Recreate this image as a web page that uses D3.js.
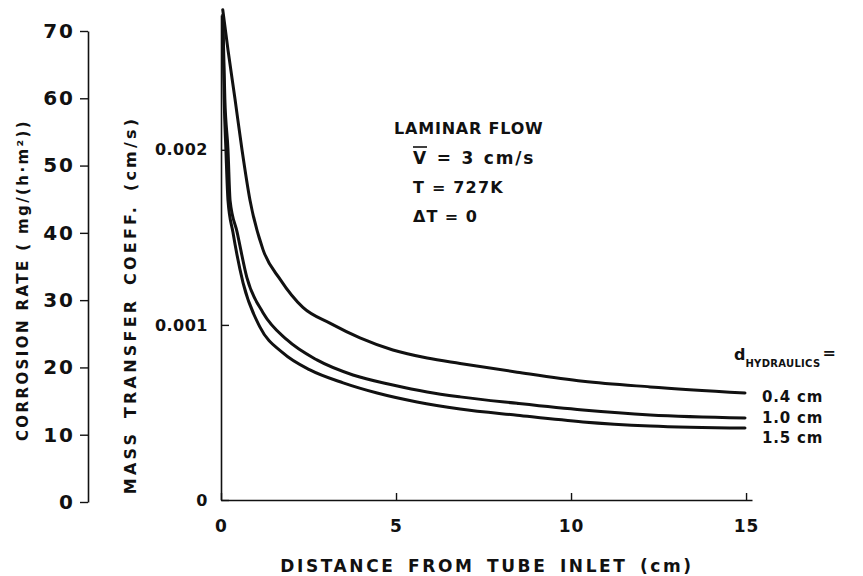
<!DOCTYPE html>
<html>
<head>
<meta charset="utf-8">
<script src="https://cdn.jsdelivr.net/npm/d3@7"></script>
<style>
  html, body { margin: 0; padding: 0; background: #fff; }
  svg { display: block; }
  text { font-family: "DejaVu Sans", "Liberation Sans", sans-serif; font-weight: bold; fill: #111; }
</style>
</head>
<body>
<svg id="chart" width="863" height="576"></svg>
<script>
// ---------------- data ----------------
const xTicks = [0, 5, 10, 15];
const corrosionTicks = [0, 10, 20, 30, 40, 50, 60, 70];
const massTicks = [0, 0.001, 0.002];
const massTickLabels = ["0", "0.001", "0.002"];

const seriesNames = ["0.4 cm", "1.0 cm", "1.5 cm"];

const dist04 = [0.05, 0.2, 0.4, 0.6, 0.83, 1.2, 1.69, 2.34, 3.11, 3.97, 4.91, 5.89, 6.83, 8.46, 10.34, 12.26, 14.97];
const mtc04  = [0.00280, 0.00257, 0.00229, 0.00200, 0.00171, 0.00143, 0.00126, 0.00110, 0.00101, 0.000926, 0.000857, 0.000811, 0.000780, 0.000730, 0.000678, 0.000646, 0.000611];

const dist10 = [0.05, 0.11, 0.2, 0.26, 0.46, 0.74, 1.2, 1.89, 2.74, 3.77, 4.91, 5.89, 6.83, 8.46, 10.34, 12.26, 14.97];
const mtc10  = [0.00277, 0.00229, 0.00200, 0.00171, 0.00153, 0.00127, 0.00107, 0.000914, 0.000800, 0.000714, 0.000657, 0.000617, 0.000589, 0.000552, 0.000514, 0.000486, 0.000469];

const dist15 = [0.05, 0.09, 0.14, 0.2, 0.34, 0.63, 1.11, 1.77, 2.54, 3.49, 4.46, 5.6, 6.83, 8.46, 10.34, 12.26, 14.97];
const mtc15  = [0.00275, 0.00229, 0.00200, 0.00171, 0.00153, 0.00124, 0.000989, 0.000840, 0.000743, 0.000669, 0.000611, 0.000560, 0.000520, 0.000484, 0.000446, 0.000423, 0.000411];

const annotationLines = ["LAMINAR FLOW", "V = 3 cm/s", "T = 727K", "\u0394T = 0"];

// ---------------- layout ----------------
const svg = d3.select("#chart");

const x = d3.scaleLinear().domain([0, 15.17]).range([221, 752]);
const yM = d3.scaleLinear().domain([0, 0.00277]).range([500, 15]);
const yC = d3.scaleLinear().domain([0, 70]).range([502, 31]);

// Corrosion axis (far left)
const gC = svg.append("g").attr("transform", "translate(88,0)")
  .call(d3.axisLeft(yC).tickValues(corrosionTicks).tickSize(8).tickSizeOuter(0).tickPadding(5));
gC.selectAll("path.domain").attr("stroke", "#111").attr("stroke-width", 1.6);
gC.selectAll(".tick line").attr("stroke", "#111").attr("stroke-width", 1.4);
gC.selectAll(".tick text").attr("font-size", 20).attr("font-family", "DejaVu Sans").attr("font-weight", "bold")
  .attr("fill", "#111").attr("letter-spacing", 2);

// Mass transfer axis
const gM = svg.append("g").attr("transform", "translate(221,0)")
  .call(d3.axisLeft(yM).tickValues(massTicks).tickFormat((d, i) => massTickLabels[i])
    .tickSize(-8).tickSizeOuter(0).tickPadding(13));
gM.selectAll("path.domain").attr("stroke", "#111").attr("stroke-width", 1.6);
gM.selectAll(".tick line").attr("stroke", "#111").attr("stroke-width", 1.4);
gM.selectAll(".tick text").attr("font-size", 16).attr("font-family", "DejaVu Sans").attr("font-weight", "bold")
  .attr("fill", "#111").attr("letter-spacing", 0.5);

// X axis
const gX = svg.append("g").attr("transform", "translate(0,500)")
  .call(d3.axisBottom(x).tickValues(xTicks).tickSize(-7).tickSizeOuter(0).tickPadding(20));
gX.selectAll("path.domain").attr("stroke", "#111").attr("stroke-width", 1.6);
gX.selectAll(".tick line").attr("stroke", "#111").attr("stroke-width", 1.4);
gX.selectAll(".tick text").attr("font-size", 17).attr("font-family", "DejaVu Sans").attr("font-weight", "bold")
  .attr("fill", "#111").attr("letter-spacing", 1);

// Curves
const line = d3.line().x(d => x(d[0])).y(d => yM(d[1])).curve(d3.curveMonotoneX);
const seriesData = [
  d3.zip(dist04, mtc04),
  d3.zip(dist10, mtc10),
  d3.zip(dist15, mtc15)
];
svg.append("g").selectAll("path.curve").data(seriesData).join("path")
  .attr("class", "curve")
  .attr("d", line)
  .attr("fill", "none")
  .attr("stroke", "#111")
  .attr("stroke-width", 3)
  .attr("stroke-linecap", "round");

// Axis titles
svg.append("text")
  .attr("transform", "translate(28,280) rotate(-90)")
  .attr("text-anchor", "middle")
  .attr("font-size", 15)
  .attr("letter-spacing", 2.4)
  .text("CORROSION RATE ( mg/(h\u00B7m\u00B2))");

svg.append("text")
  .attr("transform", "translate(136,305) rotate(-90)")
  .attr("text-anchor", "middle")
  .attr("font-size", 16)
  .attr("letter-spacing", 3.2)
  .attr("word-spacing", 4)
  .text("MASS TRANSFER COEFF. (cm/s)");

svg.append("text")
  .attr("x", 487).attr("y", 572)
  .attr("text-anchor", "middle")
  .attr("font-size", 17)
  .attr("letter-spacing", 2.6)
  .attr("word-spacing", 4)
  .text("DISTANCE FROM TUBE INLET (cm)");

// Annotation block
const ann = svg.append("g");
ann.append("text").attr("x", 394).attr("y", 134).attr("font-size", 16).attr("letter-spacing", 0.8).text(annotationLines[0]);
ann.append("text").attr("x", 413).attr("y", 164).attr("font-size", 17).attr("letter-spacing", 1.8).attr("word-spacing", 1).text(annotationLines[1]);
ann.append("line").attr("x1", 413).attr("x2", 427).attr("y1", 147).attr("y2", 147).attr("stroke", "#111").attr("stroke-width", 1.6);
ann.append("text").attr("x", 413).attr("y", 193).attr("font-size", 16).attr("letter-spacing", 1.2).text(annotationLines[2]);
ann.append("text").attr("x", 413).attr("y", 222).attr("font-size", 16).attr("letter-spacing", 1).text(annotationLines[3]);

// Legend / curve labels
const lg = svg.append("g");
const dLabel = lg.append("text").attr("x", 734).attr("y", 360).attr("font-size", 16);
dLabel.append("tspan").text("d");
dLabel.append("tspan").attr("font-size", 10).attr("dy", 7).attr("letter-spacing", 0.3).text("HYDRAULICS");
dLabel.append("tspan").attr("font-size", 16).attr("dy", -9).attr("dx", 2).text("=");

const labelY = [402, 423, 443];
lg.selectAll("text.lbl").data(seriesNames).join("text")
  .attr("class", "lbl")
  .attr("x", 762)
  .attr("y", (d, i) => labelY[i])
  .attr("font-size", 15)
  .attr("letter-spacing", 0.8)
  .text(d => d);
</script>
</body>
</html>
